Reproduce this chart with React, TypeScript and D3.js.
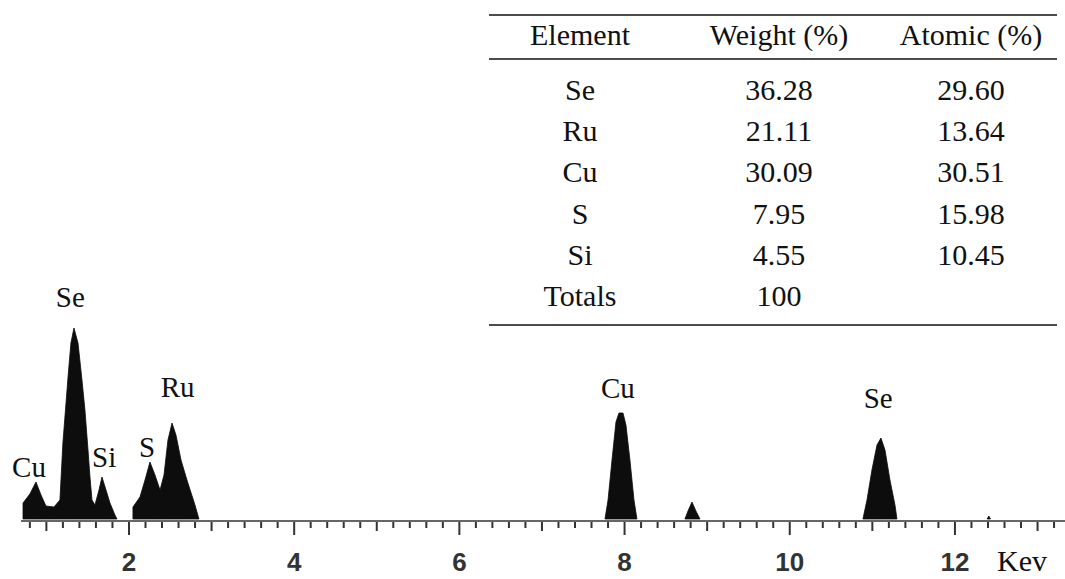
import * as d3 from 'd3';

// EDS spectrum (keV, counts)
const lowPeaks: [number, number][] = [
  [0.717, 0], [0.717, 16], [0.8, 25], [0.874, 37], [0.935, 24], [0.995, 13],
  [1.092, 12], [1.164, 19], [1.2, 76], [1.262, 142], [1.297, 176], [1.334, 191],
  [1.383, 176], [1.431, 139], [1.467, 109], [1.504, 69], [1.528, 42], [1.552, 19],
  [1.588, 14], [1.637, 29], [1.673, 42], [1.722, 29], [1.77, 16], [1.83, 4], [1.855, 0],
];
const sRuPeaks: [number, number][] = [
  [2.048, 0], [2.048, 12], [2.133, 22], [2.194, 39], [2.254, 57], [2.315, 44],
  [2.376, 29], [2.424, 44], [2.472, 79], [2.521, 96], [2.569, 84], [2.63, 59],
  [2.702, 39], [2.799, 14], [2.847, 0],
];
const cuKaPeak: [number, number][] = [
  [7.763, 0], [7.8, 19], [7.848, 59], [7.896, 97], [7.932, 106], [7.981, 106],
  [8.017, 94], [8.065, 59], [8.114, 19], [8.15, 0],
];
const cuKbPeak: [number, number][] = [
  [8.731, 0], [8.768, 8], [8.816, 17], [8.864, 8], [8.913, 0],
];
const seKaPeak: [number, number][] = [
  [10.886, 0], [10.935, 19], [10.995, 49], [11.056, 74], [11.104, 81],
  [11.153, 69], [11.213, 39], [11.274, 14], [11.298, 0],
];
const tinyPeak: [number, number][] = [[12.39, 0], [12.41, 3], [12.43, 0]];

const peakLabels = ['Cu', 'Se', 'Si', 'S', 'Ru', 'Cu', 'Se'];
const peakLabelKev = [0.79, 1.29, 1.7, 2.22, 2.59, 7.92, 11.07];
const peakLabelCounts = [42, 212, 52, 62, 122, 121, 111];

const tickLabels = [2, 4, 6, 8, 10, 12];

// composition table
const elements = ['Se', 'Ru', 'Cu', 'S', 'Si'];
const weightPct = ['36.28', '21.11', '30.09', '7.95', '4.55'];
const atomicPct = ['29.60', '13.64', '30.51', '15.98', '10.45'];
const weightTotal = '100';
const headers = ['Element', 'Weight (%)', 'Atomic (%)'];

const W = 1065;
const H = 579;
const serif = "Liberation Serif, Tinos, DejaVu Serif, Times New Roman, serif";
const sans = "Liberation Sans, Arimo, Arial, sans-serif";

export default function App() {
  const x = d3.scaleLinear().domain([0.7, 13.33]).range([21.6, 1064.8]);
  const y = d3.scaleLinear().domain([0, 200]).range([519, 319]);

  const area = d3.area<[number, number]>()
    .x(d => x(d[0]))
    .y0(y(0))
    .y1(d => y(d[1]));

  const segments = [lowPeaks, sRuPeaks, cuKaPeak, cuKbPeak, seKaPeak, tinyPeak];
  const axisY = 521;
  const minorTicks = d3.range(0.8, 13.3, 0.2);

  // table layout
  const colX = [580, 779, 971];
  const rowY = d3.scaleLinear().domain([0, 5]).range([100, 306]);
  const rows = elements.map((el, i) => [el, weightPct[i], atomicPct[i]]);
  rows.push(['Totals', weightTotal, '']);

  const serifStyle = { fontFamily: serif };

  return (
    <svg width={W} height={H} style={{ position: 'absolute', left: 0, top: 0, background: '#fff' }}>
      {/* table */}
      <line x1={489} x2={1057} y1={15} y2={15} stroke="#111" strokeWidth={1.5} />
      <line x1={489} x2={1057} y1={59} y2={59} stroke="#111" strokeWidth={1.5} />
      <line x1={489} x2={1057} y1={325} y2={325} stroke="#111" strokeWidth={1.5} />
      {headers.map((h, j) => (
        <text key={h} x={colX[j]} y={45} textAnchor="middle" style={serifStyle} fontSize={30} fill="#111">{h}</text>
      ))}
      {rows.map((r, i) => r.map((c, j) => (
        <text key={`${i}-${j}`} x={colX[j]} y={rowY(i)} textAnchor="middle" style={serifStyle} fontSize={30} fill="#111">{c}</text>
      )))}

      {/* spectrum */}
      {segments.map((s, i) => (
        <path key={i} d={area(s) || ''} fill="#0d0d0d" stroke="#0d0d0d" strokeWidth={0.8} strokeLinejoin="round" />
      ))}

      {/* axis */}
      <line x1={21} x2={W} y1={axisY} y2={axisY} stroke="#333" strokeWidth={1.5} />
      {minorTicks.map((t, i) => {
        const k = Math.round(t * 5) / 5;
        const isInt = Math.abs(k - Math.round(k)) < 1e-6;
        const len = isInt ? (Math.round(k) % 2 === 0 ? 14 : 10) : 7;
        return <line key={i} x1={x(k)} x2={x(k)} y1={axisY + 1} y2={axisY + len} stroke="#333" strokeWidth={2} />;
      })}
      {tickLabels.map(t => (
        <text key={t} x={x(t)} y={571} textAnchor="middle" style={{ fontFamily: sans }} fontWeight="bold" fontSize={26} fill="#333">{t}</text>
      ))}
      <text x={997} y={571} style={serifStyle} fontSize={30} fill="#111">Kev</text>

      {peakLabels.map((l, i) => (
        <text key={i} x={x(peakLabelKev[i])} y={y(peakLabelCounts[i])} textAnchor="middle" style={serifStyle} fontSize={29} fill="#111">{l}</text>
      ))}
    </svg>
  );
}
